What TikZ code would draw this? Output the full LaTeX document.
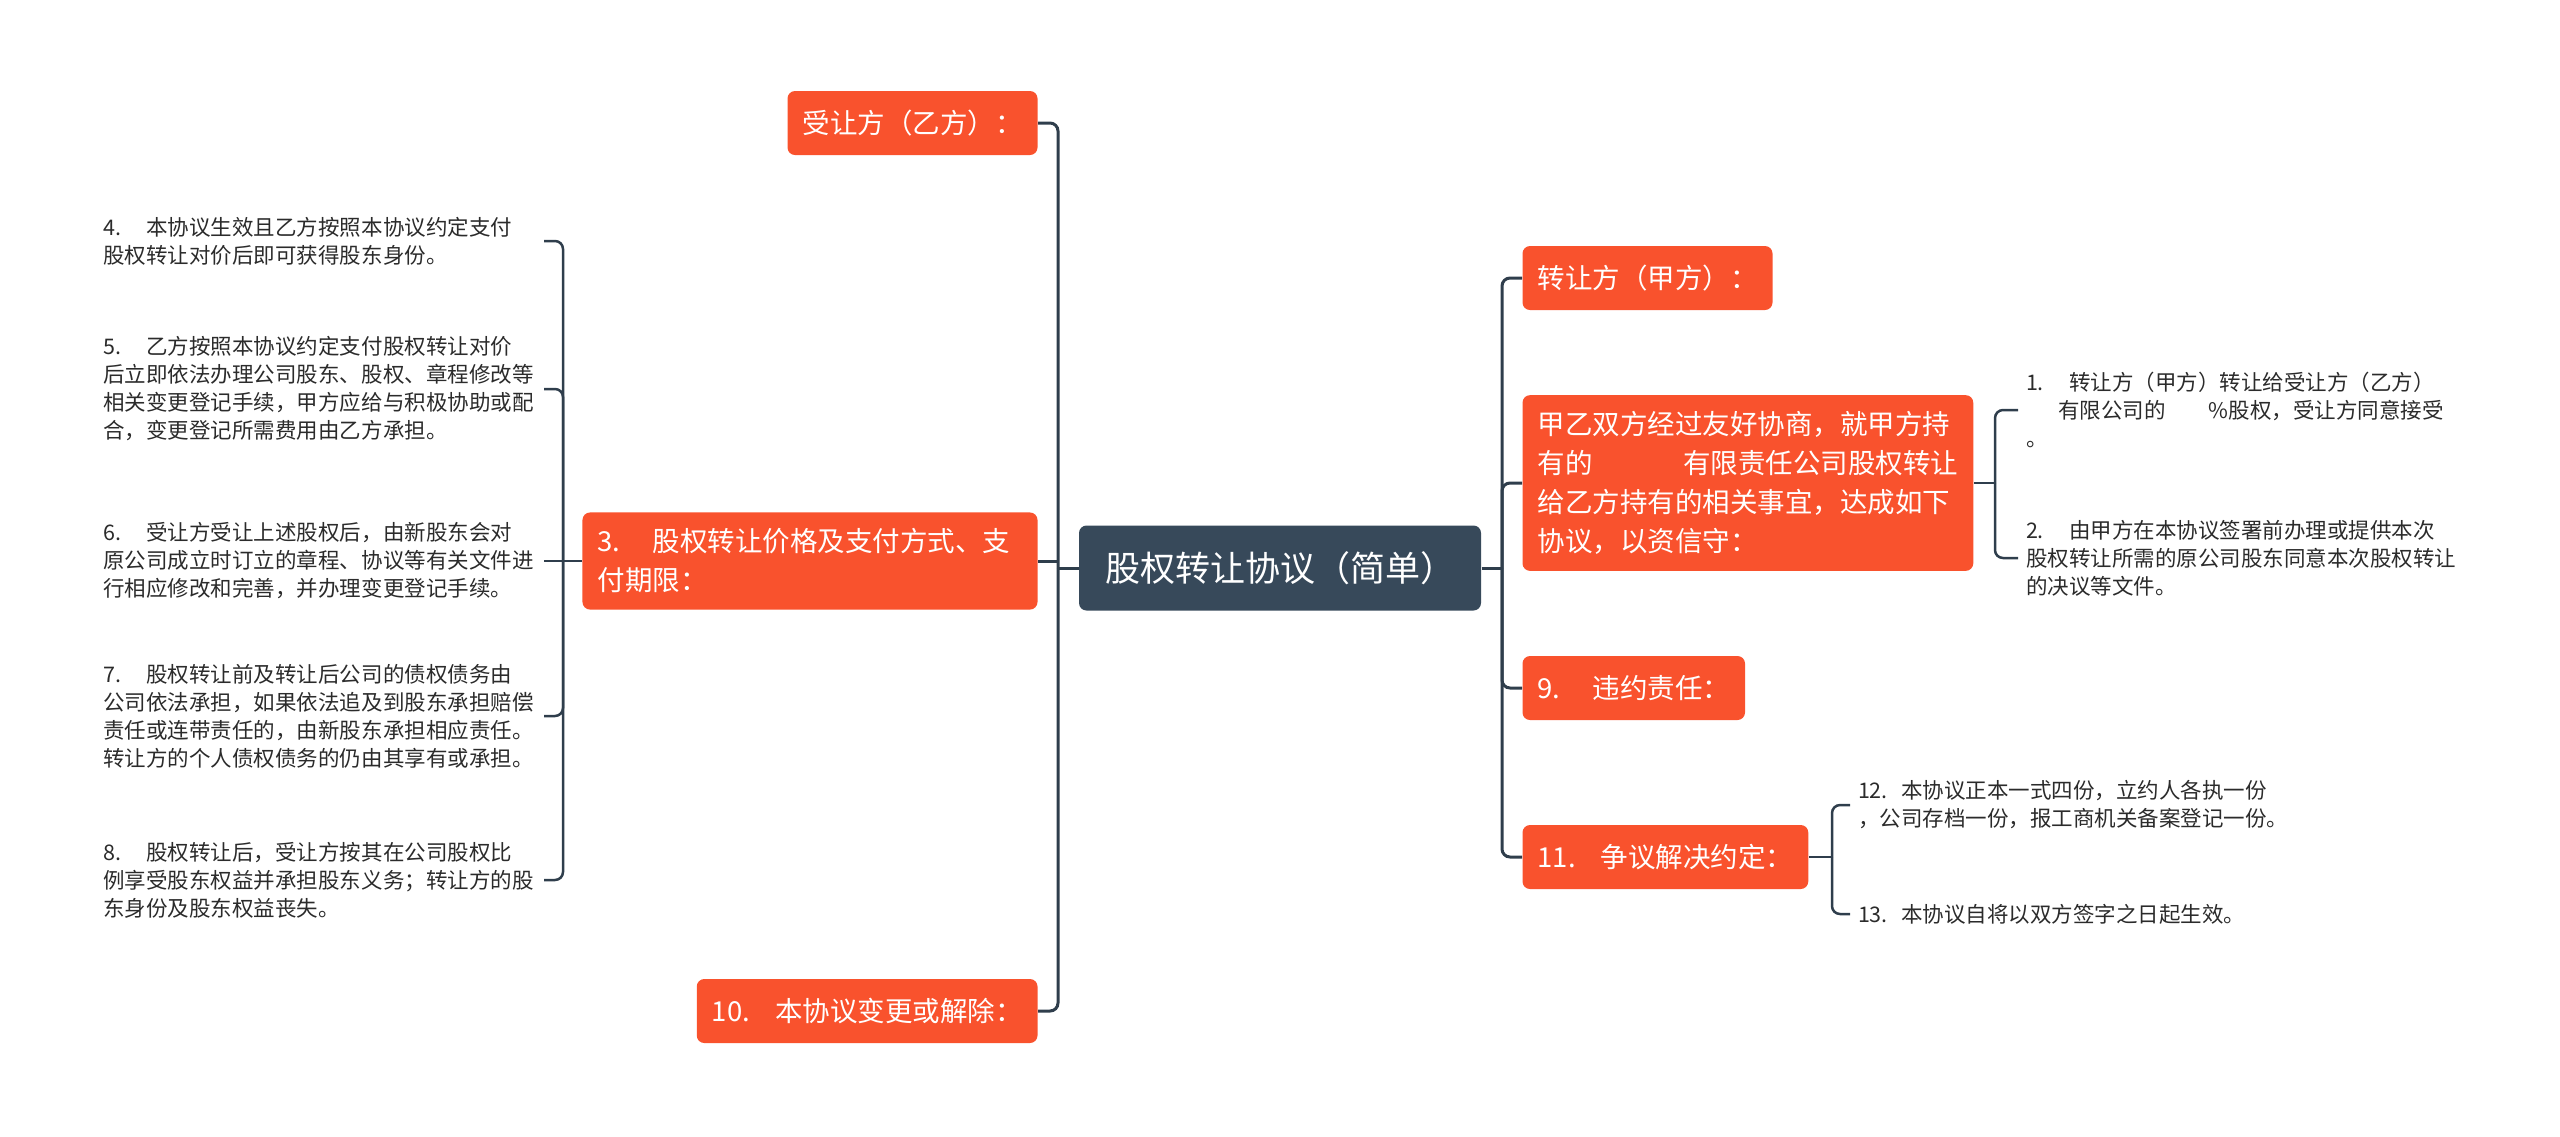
\documentclass[tikz,border=0pt]{standalone}
\usepackage{fontspec}
\setmainfont{Noto Sans CJK SC}
\usepackage{xcolor}
\usepackage{tikz}
\definecolor{topicfill}{HTML}{F9522D}
\definecolor{slate}{HTML}{37495A}
\definecolor{wire}{HTML}{2F3E4C}
\definecolor{ink}{HTML}{2B2B2B}
\newcommand{\numlab}[2][2em]{\makebox[#1][l]{#2}}

\begin{document}
\begin{tikzpicture}[x=0.4pt, y=-0.4pt,
  root/.style={fill=slate, rounded corners=3pt, text=white, font=\fontsize{14}{17}\selectfont,
               minimum height=34pt, inner xsep=10.4pt},
  topic/.style={fill=topicfill, rounded corners=3pt, text=white, font=\fontsize{11}{15.6}\selectfont,
                align=left, minimum height=25.6pt, inner xsep=6pt, inner ysep=6.5pt},
  leaf/.style={text=ink, font=\fontsize{8.6}{11.2}\selectfont, align=left, text width=173pt,
               inner xsep=3pt, inner ysep=2pt},
  link/.style={draw=wire, line width=1.2pt, rounded corners=3.2pt},
  twig/.style={draw=wire, line width=1pt, rounded corners=3.2pt}]
\useasboundingbox (0,0) rectangle (2560,1136);
\node[root] (main) at (1280,568) {股权转让协议（简单）};
\node[topic, anchor=east] (buyer) at (1038,123) {受让方（乙方）：};
\node[topic, anchor=east, text width=170pt] (price) at (1038,561) {\numlab{3.}股权转让价格及支付方式、支\\付期限：};
\node[topic, anchor=east] (change) at (1038,1011) {\numlab[2.3em]{10.}本协议变更或解除：};
\node[topic, anchor=west] (seller) at (1522,278) {转让方（甲方）：};
\node[topic, anchor=west] (intro) at (1522,483) {甲乙双方经过友好协商，就甲方持\\有的\hspace{3.3em}有限责任公司股权转让\\给乙方持有的相关事宜，达成如下\\协议，以资信守：};
\node[topic, anchor=west] (breach) at (1522,688) {\numlab{9.}违约责任：};
\node[topic, anchor=west] (dispute) at (1522,857) {\numlab[2.3em]{11.}争议解决约定：};
\node[leaf, anchor=east] (c4) at (544,241) {\numlab{4.}本协议生效且乙方按照本协议约定支付\\股权转让对价后即可获得股东身份。};
\node[leaf, anchor=east] (c5) at (544,389) {\numlab{5.}乙方按照本协议约定支付股权转让对价\\后立即依法办理公司股东、股权、章程修改等\\相关变更登记手续，甲方应给与积极协助或配\\合，变更登记所需费用由乙方承担。};
\node[leaf, anchor=east] (c6) at (544,561) {\numlab{6.}受让方受让上述股权后，由新股东会对\\原公司成立时订立的章程、协议等有关文件进\\行相应修改和完善，并办理变更登记手续。};
\node[leaf, anchor=east] (c7) at (544,716) {\numlab{7.}股权转让前及转让后公司的债权债务由\\公司依法承担，如果依法追及到股东承担赔偿\\责任或连带责任的，由新股东承担相应责任。\\转让方的个人债权债务的仍由其享有或承担。};
\node[leaf, anchor=east] (c8) at (544,880) {\numlab{8.}股权转让后，受让方按其在公司股权比\\例享受股东权益并承担股东义务；转让方的股\\东身份及股东权益丧失。};
\node[leaf, anchor=west] (c1) at (2018,410) {\numlab{1.}转让方（甲方）转让给受让方（乙方）\\\hspace*{1.5em}有限公司的\hspace{2em}\%股权，受让方同意接受\\。};
\node[leaf, anchor=west] (c2) at (2018,558) {\numlab{2.}由甲方在本协议签署前办理或提供本次\\股权转让所需的原公司股东同意本次股权转让\\的决议等文件。};
\node[leaf, anchor=west] (c12) at (1850,805) {\numlab{12.}本协议正本一式四份，立约人各执一份\\，公司存档一份，报工商机关备案登记一份。};
\node[leaf, anchor=west] (c13) at (1850,914) {\numlab{13.}本协议自将以双方签字之日起生效。};
\coordinate (lj) at (1058,568);
\coordinate (rj) at (1502,568);
\coordinate (pb) at (563,561);
\coordinate (ib) at (1995,483);
\coordinate (db) at (1832,857);
\draw[link] (main.west) -- (lj);
\draw[link] (main.east) -- (rj);
\draw[link] (price.east) -- (price.east -| lj);
\foreach \n in {buyer,change} \draw[link] (lj) |- (\n.east);
\foreach \n in {seller,intro,breach,dispute} \draw[link] (rj) |- (\n.west);
\draw[twig] (price.west) -- (pb);
\draw[twig] (pb) -- (c6.east);
\foreach \n in {c4,c5,c7,c8} \draw[twig] (pb) |- (\n.east);
\draw[twig] (intro.east) -- (ib);
\foreach \n in {c1,c2} \draw[twig] (ib) |- (\n.west);
\draw[twig] (dispute.east) -- (db);
\foreach \n in {c12,c13} \draw[twig] (db) |- (\n.west);
\end{tikzpicture}
\end{document}
